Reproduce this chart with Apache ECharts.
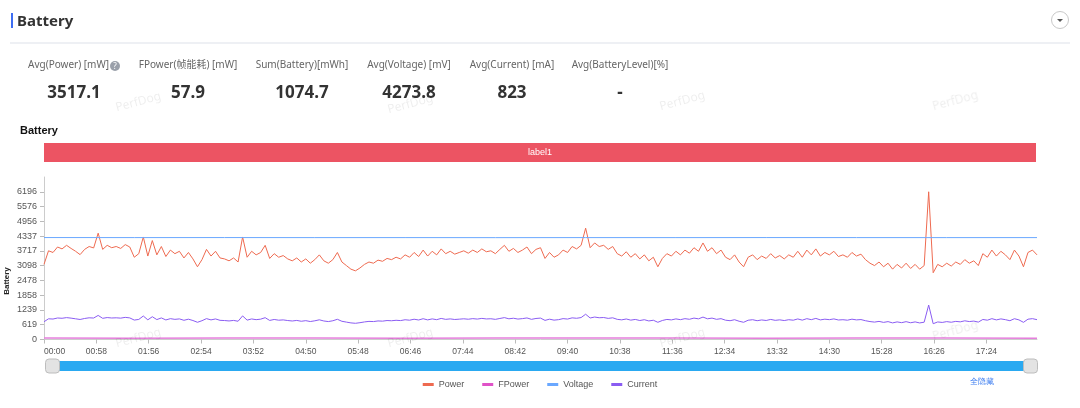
<!DOCTYPE html>
<html>
<head>
<meta charset="utf-8">
<title>Battery</title>
<script src="https://cdn.jsdelivr.net/npm/echarts@6/dist/echarts.min.js"></script>
<style>
  html,body{margin:0;padding:0;background:#fff;}
  body{width:1080px;height:408px;position:relative;overflow:hidden;font-family:"Noto Sans","Noto Sans CJK SC",sans-serif;}
  #chart{position:absolute;left:0;top:0;width:1080px;height:408px;}
  .hd-bar{position:absolute;left:11px;top:13px;width:2px;height:15px;background:#3d6df2;}
  .hd-title{position:absolute;left:17px;top:10px;font-size:15px;font-weight:bold;color:#333;line-height:20px;}
  .hd-line{position:absolute;left:10px;right:10px;top:42px;height:2px;background:#eef0f4;}
  .hd-btn{position:absolute;left:1051px;top:11px;width:18px;height:18px;border:1px solid #c8c8c8;border-radius:50%;box-sizing:border-box;}
  .hd-btn:after{content:'';position:absolute;left:5px;top:7px;border-left:3px solid transparent;border-right:3px solid transparent;border-top:3px solid #555;}
  .stat{position:absolute;top:57px;text-align:center;transform:translateX(-50%);white-space:nowrap;}
  .stat .k{font-size:10px;color:#666;line-height:14px;}
  .stat .v{font-size:17px;font-weight:bold;color:#333;margin-top:11px;line-height:20px;}
  .q{display:inline-block;width:10px;height:10px;border-radius:50%;background:#9aa0aa;color:#fff;font-size:8px;line-height:10px;text-align:center;vertical-align:-1px;margin-left:1px;}
  .wm{position:absolute;font-size:12px;color:rgba(0,0,0,0.07);transform:translate(-50%,-50%) rotate(-15deg);pointer-events:none;z-index:5;}
</style>
</head>
<body>
<div id="chart"></div>
<div class="hd-bar"></div>
<div class="hd-title">Battery</div>
<div class="hd-line"></div>
<div class="hd-btn"></div>
<div id="stats"></div>
<div id="marks"></div>
<script>
// 顶部统计
const statLabels = ['Avg(Power) [mW]', 'FPower(帧能耗) [mW]', 'Sum(Battery)[mWh]', 'Avg(Voltage) [mV]', 'Avg(Current) [mA]', 'Avg(BatteryLevel)[%]']
const statValues = ['3517.1', '57.9', '1074.7', '4273.8', '823', '-']
const statCenters = [74, 188, 302, 409, 512, 620]

// 时间(秒), 每5秒一个点
const step = 5
const power = [
  3150,3720,3650,3880,3800,3950,3820,3700,3560,3780,
  3900,3840,4460,3780,3950,3850,3900,3820,3980,3880,
  3450,3600,4300,3500,4150,3550,3900,3480,3750,3600,
  3700,3420,3650,3380,3050,3350,3780,3500,3700,3420,
  3380,3300,3420,3250,4300,3450,3700,3550,3650,3950,
  3400,3600,3450,3520,3380,3300,3420,3250,3380,3200,
  3350,3550,3300,3200,3350,3650,3250,3100,2950,2880,
  3000,3150,3250,3200,3330,3280,3400,3350,3450,3380,
  3550,3450,3650,3480,3750,3500,3700,3550,3800,3600,
  3700,3580,3650,3720,3620,3750,3650,3800,3680,3720,
  3600,3780,3950,3700,3820,3650,3750,3880,3600,3780,
  3850,3400,3650,3450,3550,3750,3650,3900,3800,3950,
  4670,3850,4050,3900,3950,3780,3900,3600,3500,3680,
  3450,3600,3380,3550,3300,3450,3050,3400,3600,3500,
  3700,3550,3750,3620,3850,3700,4050,3700,3850,3600,
  3750,3450,3350,3550,3250,3050,3450,3550,3350,3500,
  3400,3600,3420,3520,3380,3550,3450,3700,3450,3750,
  3550,3800,3500,3650,3550,3700,3480,3550,3450,3650,
  3500,3580,3350,3200,3100,3250,3050,3200,2950,3150,
  3000,3200,2980,3150,2950,3100,6196,2800,3150,3050,
  3200,3080,3250,3150,3350,3200,3300,3100,3600,3450,
  3750,3500,3700,3550,3350,3750,3500,3050,3650,3750,
  3550
]
const current = [
  745,868,858,902,890,918,896,868,840,882,
  910,900,1010,888,920,902,910,896,928,906,
  815,842,985,825,955,835,905,820,874,845,
  864,806,852,796,722,788,876,822,862,804,
  795,778,800,766,990,812,862,832,853,915,
  800,840,810,822,795,776,800,765,790,754,
  784,826,776,752,786,848,764,730,696,680,
  705,737,760,752,778,770,795,786,806,793,
  828,810,850,818,872,822,864,832,884,845,
  864,840,853,868,850,875,856,886,862,870,
  845,882,918,868,892,857,876,904,846,882,
  898,802,852,812,832,875,857,908,890,920,
  1060,902,942,912,922,886,910,846,824,860,
  812,842,796,830,778,808,722,798,842,822,
  864,832,874,848,898,866,940,868,898,846,
  874,810,788,830,766,722,808,830,788,820,
  798,842,804,824,795,830,810,862,812,874,
  832,885,822,852,832,864,818,830,810,852,
  822,836,788,752,730,760,718,750,696,738,
  706,748,702,738,695,726,1445,662,736,716,
  750,724,760,740,784,752,772,730,840,810,
  874,822,864,832,788,872,822,720,852,874,
  832
]
// 电压和帧能耗基本不变, 每100秒一个点
const flatTimes = [0, 100, 200, 300, 400, 500, 600, 700, 800, 900, 1000, 1100]
const voltage = [4276, 4274, 4275, 4273, 4274, 4272, 4274, 4273, 4275, 4274, 4273, 4274]
const fpower = [58, 57, 59, 58, 57, 58, 59, 58, 57, 58, 58, 57]

// 刻度
const xTicks = [0, 58, 116, 174, 232, 290, 348, 406, 464, 522, 580, 638, 696, 754, 812, 870, 928, 986, 1044]
const yTicks = [0, 619.6, 1239.2, 1858.8, 2478.4, 3098, 3717.6, 4337.2, 4956.8, 5576.4, 6196]

let html = ''
for (let i = 0; i < statLabels.length; i++) {
  html += '<div class="stat" style="left:' + statCenters[i] + 'px"><div class="k">' + statLabels[i] +
    (i == 0 ? '<span class="q">?</span>' : '') + '</div><div class="v">' + statValues[i] + '</div></div>'
}
document.getElementById('stats').innerHTML = html

// 水印
const marks = [[138,101],[410,103],[682,100],[955,100],[138,337],[410,337],[682,337],[955,330]]
document.getElementById('marks').innerHTML = marks.map(p =>
  '<div class="wm" style="left:' + p[0] + 'px;top:' + p[1] + 'px">PerfDog</div>').join('')

function mmss(v) {
  let m = Math.floor(v / 60), s = Math.round(v % 60)
  return (m < 10 ? '0' + m : m) + ':' + (s < 10 ? '0' + s : s)
}
const times = power.map((v, i) => i * step)

let myChart = echarts.init(document.getElementById('chart'))
let option = {
  animation: false,
  title: {
    text: 'Battery', left: 15, top: 120,
    textStyle: { fontSize: 11, fontWeight: 'bold', color: '#111' }
  },
  graphic: [
    { type: 'rect', shape: { x: 44, y: 143, width: 992, height: 19 }, style: { fill: '#ec5463' } },
    { type: 'text', x: 540, y: 153, style: { text: 'label1', fill: '#fff', fontSize: 9, align: 'center', verticalAlign: 'middle' } },
    { type: 'text', x: 7, y: 281, rotation: Math.PI / 2, style: { text: 'Battery', fill: '#222', fontSize: 8, fontWeight: 'bold', align: 'center', verticalAlign: 'middle' } },
    { type: 'text', x: 982, y: 382, style: { text: '全隐藏', fill: '#3b7cf0', fontSize: 8, align: 'center', verticalAlign: 'middle' } }
  ],
  color: ['#ee6a50', '#e052c8', '#6aa8ff', '#8a5cf2'],
  legend: {
    left: 'center', top: 375,
    icon: 'rect', itemWidth: 11, itemHeight: 3, itemGap: 18,
    textStyle: { fontSize: 9, color: '#555' },
    data: ['Power', 'FPower', 'Voltage', 'Current']
  },
  grid: { left: 44, right: 43, top: 177, bottom: 68.5, outerBoundsMode: 'none' },
  xAxis: {
    type: 'value', min: 0, max: 1100,
    axisLine: { lineStyle: { color: '#ccc' } },
    axisTick: { customValues: xTicks, length: 4, lineStyle: { color: '#bbb' } },
    axisLabel: { customValues: xTicks, formatter: mmss, fontSize: 8.5, color: '#555', margin: 8, alignMinLabel: 'left' },
    splitLine: { show: false }
  },
  yAxis: {
    type: 'value', min: 0, max: 6815.6,
    axisLine: { show: true, lineStyle: { color: '#ccc' } },
    axisTick: { show: true, customValues: yTicks, length: 4, lineStyle: { color: '#bbb' } },
    axisLabel: { customValues: yTicks, formatter: v => Math.floor(v + 1e-6), fontSize: 9, color: '#555', margin: 7 },
    splitLine: { show: false }
  },
  dataZoom: [{
    type: 'slider', xAxisIndex: 0, start: 0, end: 100,
    left: 50, right: 50, top: 361, height: 10,
    borderColor: 'transparent', backgroundColor: '#e8f4fd',
    fillerColor: '#2aa9f1',
    handleIcon: 'roundRect', handleSize: '140%',
    handleStyle: { color: '#e3e3e3', borderColor: '#bdbdbd', borderWidth: 1 },
    moveHandleSize: 0, brushSelect: false, showDetail: false, showDataShadow: false,
    dataBackground: { lineStyle: { opacity: 0 }, areaStyle: { opacity: 0 } },
    selectedDataBackground: { lineStyle: { opacity: 0 }, areaStyle: { opacity: 0 } }
  }],
  series: [
    { name: 'Power', type: 'line', showSymbol: false, lineStyle: { width: 1 }, data: power.map((v, i) => [times[i], v]) },
    { name: 'FPower', type: 'line', showSymbol: false, lineStyle: { width: 1.5, color: '#e57fdc' }, data: fpower.map((v, i) => [flatTimes[i], v]) },
    { name: 'Voltage', type: 'line', showSymbol: false, lineStyle: { width: 1 }, data: voltage.map((v, i) => [flatTimes[i], v]) },
    { name: 'Current', type: 'line', showSymbol: false, lineStyle: { width: 1 }, data: current.map((v, i) => [times[i], v]) }
  ]
}
myChart.setOption(option)
</script>
</body>
</html>
